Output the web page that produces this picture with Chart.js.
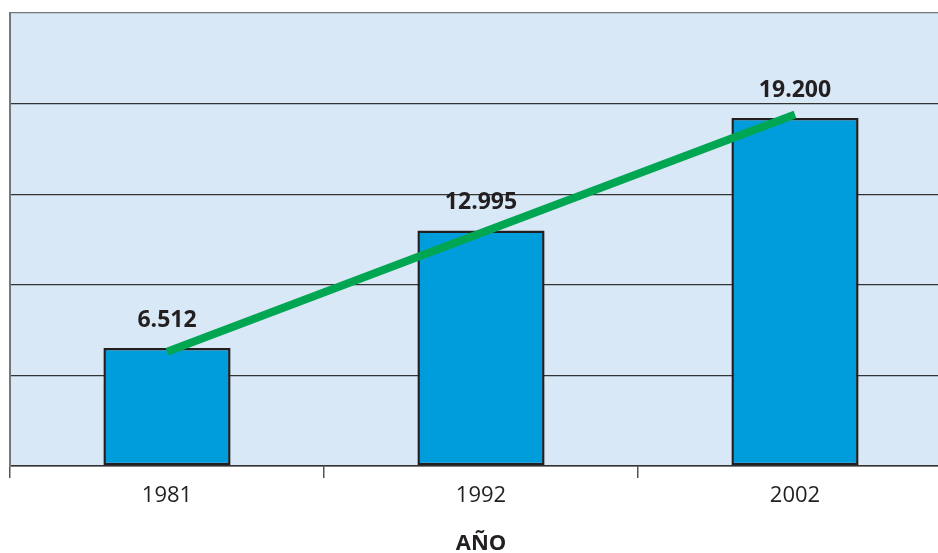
<!DOCTYPE html>
<html lang="es">
<head>
    <meta charset="UTF-8">
    <title>Año</title>
    <script src="https://cdn.jsdelivr.net/npm/chart.js"></script>
    <style>
        html, body { margin: 0; padding: 0; overflow: hidden; background: #fff; }
        #wrap { width: 962px; height: 553px; position: relative; }
    </style>
</head>
<body>
    <div id="wrap"><canvas id="myChart"></canvas></div>

    <script>
        const years = ['1981', '1992', '2002'];
        const barValues = [6512, 12995, 19200];
        const barLabels = ['6.512', '12.995', '19.200'];
        const trendValues = [6300, 12860, 19400];
        const yTicks = [0, 5000, 10000, 15000, 20000, 25000];

        const plotBackground = {
            id: 'plotBackground',
            beforeDraw(chart) {
                const { ctx, chartArea: a } = chart;
                ctx.save();
                ctx.fillStyle = '#d9e8f6';
                ctx.fillRect(a.left, a.top, a.right - a.left, a.bottom - a.top);
                ctx.restore();
            }
        };

        const valueLabels = {
            id: 'valueLabels',
            afterDatasetsDraw(chart) {
                const { ctx } = chart;
                const meta = chart.getDatasetMeta(1);
                ctx.save();
                ctx.font = 'bold 23px "Open Sans"';
                ctx.fillStyle = '#231f20';
                ctx.textAlign = 'center';
                ctx.textBaseline = 'middle';
                meta.data.forEach((bar, i) => {
                    ctx.fillText(barLabels[i], bar.x, bar.y - 28);
                });
                ctx.restore();
            }
        };

        const ctx = document.getElementById('myChart').getContext('2d');
        new Chart(ctx, {
            type: 'bar',
            data: {
                labels: years,
                datasets: [{
                    type: 'line',
                    data: trendValues,
                    borderColor: '#00a651',
                    borderWidth: 8,
                    borderCapStyle: 'butt',
                    pointRadius: 0,
                    tension: 0,
                    order: 0
                }, {
                    data: barValues,
                    backgroundColor: '#009ddc',
                    borderColor: '#231f20',
                    borderWidth: 2.5,
                    borderSkipped: false,
                    barPercentage: 0.405,
                    categoryPercentage: 1,
                    order: 1
                }]
            },
            options: {
                responsive: true,
                maintainAspectRatio: false,
                animation: false,
                layout: { padding: { left: 10, right: 10, top: 13, bottom: 0 } },
                plugins: {
                    legend: { display: false },
                    tooltip: { enabled: false }
                },
                scales: {
                    x: {
                        afterFit(axis) {
                            axis.height = 87;
                        },
                        grid: {
                            offset: true,
                            drawOnChartArea: false,
                            tickLength: 12,
                            color: '#555',
                            lineWidth: 1.5
                        },
                        border: { color: '#333', width: 1.5 },
                        ticks: {
                            color: '#231f20',
                            font: { family: '"Open Sans"', size: 22 },
                            padding: 5
                        },
                        title: {
                            display: true,
                            text: 'AÑO',
                            color: '#231f20',
                            font: { family: '"Open Sans"', size: 22, weight: 'bold' },
                            padding: { top: 16, bottom: -4 }
                        }
                    },
                    y: {
                        min: 0,
                        max: 25000,
                        afterBuildTicks(axis) {
                            axis.ticks = yTicks.map(v => ({ value: v }));
                        },
                        ticks: { display: false },
                        grid: {
                            drawTicks: false,
                            color: ctx => ctx.tick && ctx.tick.value === 25000 ? '#777' : '#333',
                            lineWidth: 1.3
                        },
                        border: { color: '#777', width: 2 }
                    }
                }
            },
            plugins: [plotBackground, valueLabels]
        });
    </script>
</body>
</html>
